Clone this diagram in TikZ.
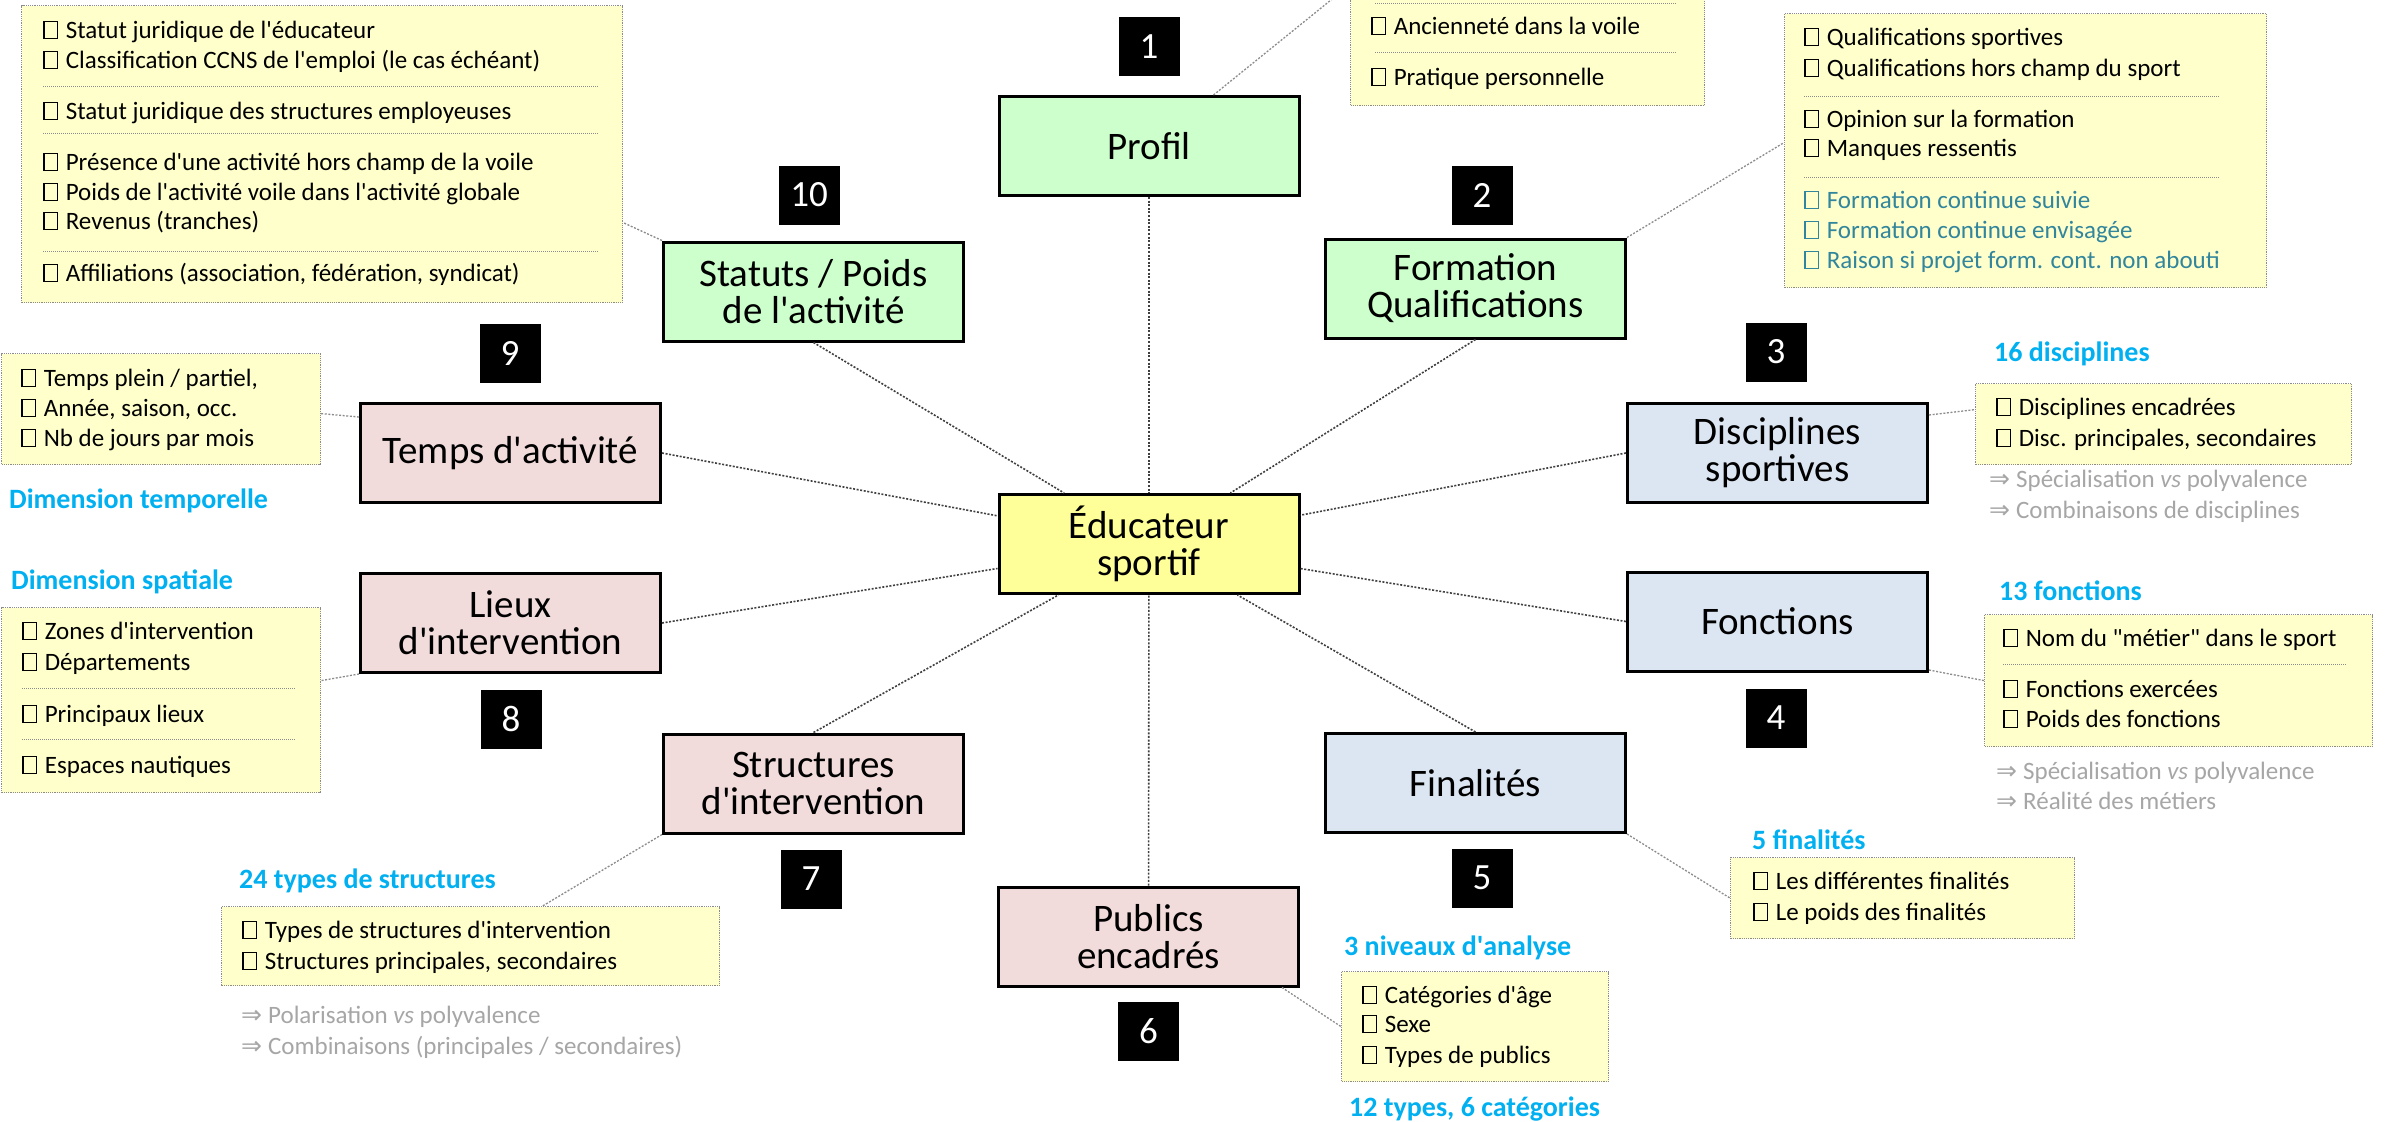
\documentclass[tikz,border=0pt]{standalone}
\usepackage{fontspec}
\setmainfont{Carlito}
\newfontfamily\djv{DejaVu Sans}
\usetikzlibrary{calc}
\definecolor{gbox}{HTML}{CCFFCC}
\definecolor{ybox}{HTML}{FFFF99}
\definecolor{pbox}{HTML}{F2DCDB}
\definecolor{bbox}{HTML}{DCE6F2}
\definecolor{infofill}{HTML}{FFFFCC}
\definecolor{hblue}{HTML}{00B0F0}
\definecolor{tealtx}{HTML}{31859C}
\definecolor{gtxt}{HTML}{A6A6A6}
\definecolor{bordg}{HTML}{8C8C8C}
\newcommand\q{\textquotesingle}
\newcommand\cbx{{\setlength\fboxsep{0pt}\setlength\fboxrule{1.3pt}\fbox{\rule{0pt}{16pt}\rule{12pt}{0pt}}}\hspace{8pt}}
\newcommand\impl{{\djv ⇒}\hspace{6pt}}
\newcommand\ibox[5]{\node[infobox, anchor=north west, minimum width=#4pt, minimum height=#5pt] (#1) at (#2,#3) {};}
\tikzset{
 mainbox/.style={draw=black, line width=3pt, minimum width=300pt, minimum height=99pt, align=center, font=\fontsize{39}{37}\selectfont, inner sep=2pt},
 numbox/.style={fill=black, text=white, minimum width=61pt, minimum height=59pt, inner sep=0pt, font=\fontsize{37}{37}\selectfont},
 infobox/.style={draw=bordg, fill=infofill, line width=1.2pt, densely dotted, inner sep=0pt},
 itxt/.style={anchor=base west, inner sep=0pt, font=\fontsize{25}{28}\selectfont},
 htxt/.style={anchor=base west, inner sep=0pt, font=\fontsize{28}{30}\selectfont\bfseries, text=hblue},
 gtx/.style={itxt, text=gtxt},
 ttx/.style={itxt, text=tealtx},
 sepline/.style={draw=bordg, line width=1pt, densely dotted},
 clink/.style={draw=black!75, line width=1.6pt, dash pattern=on 2pt off 1.6pt},
 ilink/.style={draw=black!45, line width=1.3pt, dash pattern=on 2pt off 1.6pt},
}
\begin{document}
\begin{tikzpicture}[x=1pt,y=-1pt]
\useasboundingbox (0,0) rectangle (2394,1122);
\clip (0,0) rectangle (2394,1122);
\fill[white] (0,0) rectangle (2394,1122);

% info boxes
\ibox{sinfo}{21}{5}{601}{297}
\ibox{pinfo}{1350}{-137}{354}{242}
\ibox{finfo}{1784}{13}{482}{274}
\ibox{dinfo}{1975}{383}{376}{81}
\ibox{foinfo}{1984}{614}{388}{132}
\ibox{fininfo}{1730}{857}{344}{81}
\ibox{puinfo}{1341}{971}{267}{110}
\ibox{stinfo}{221}{906}{498}{79}
\ibox{linfo}{1}{607}{319}{185}
\ibox{tinfo}{1}{353}{319}{111}

% Statuts info
\node[itxt] (a1) at (43,38) {\cbx Statut juridique de l\q éducateur};
\node[itxt] (a2) at (43,68) {\cbx Classification CCNS de l\q emploi (le cas échéant)};
\draw[sepline] (43,86) -- (598,86);
\node[itxt] (a3) at (43,119) {\cbx Statut juridique des structures employeuses};
\draw[sepline] (43,133) -- (598,133);
\node[itxt] (a4) at (43,170) {\cbx Présence d\q une activité hors champ de la voile};
\node[itxt] (a5) at (43,200) {\cbx Poids de l\q activité voile dans l\q activité globale};
\node[itxt] (a6) at (43,229) {\cbx Revenus (tranches)};
\draw[sepline] (43,251) -- (598,251);
\node[itxt] (a7) at (43,281) {\cbx Affiliations (association, fédération, syndicat)};

% Profil info
\draw[sepline] (1375,3) -- (1676,3);
\node[itxt] (b1) at (1371,34) {\cbx Ancienneté dans la voile};
\draw[sepline] (1375,52) -- (1676,52);
\node[itxt] (b2) at (1371,85) {\cbx Pratique personnelle};

% Formation info
\node[itxt] (c1) at (1804,45) {\cbx Qualifications sportives};
\node[itxt] (c2) at (1804,76) {\cbx Qualifications hors champ du sport};
\draw[sepline] (1804,96) -- (2220,96);
\node[itxt] (c3) at (1804,127) {\cbx Opinion sur la formation};
\node[itxt] (c4) at (1804,156) {\cbx Manques ressentis};
\draw[sepline] (1804,177) -- (2220,177);
\node[ttx] (c5) at (1804,208) {\cbx Formation continue suivie};
\node[ttx] (c6) at (1804,238) {\cbx Formation continue envisagée};
\node[ttx] (c7) at (1804,268) {\cbx Raison si projet form. cont. non abouti};

% Disciplines info
\node[htxt] (dh) at (1994,361) {16 disciplines};
\node[itxt] (d1) at (1996,415) {\cbx Disciplines encadrées};
\node[itxt] (d2) at (1996,446) {\cbx Disc. principales, secondaires};
\node[gtx] (d3) at (1989,487) {\impl Spécialisation \textit{vs} polyvalence};
\node[gtx] (d4) at (1989,518) {\impl Combinaisons de disciplines};

% Fonctions info
\node[htxt] (eh) at (1999,600) {13 fonctions};
\node[itxt] (e1) at (2003,646) {\cbx Nom du \textquotedbl métier\textquotedbl{} dans le sport};
\draw[sepline] (2003,664) -- (2347,664);
\node[itxt] (e2) at (2003,697) {\cbx Fonctions exercées};
\node[itxt] (e3) at (2003,727) {\cbx Poids des fonctions};
\node[gtx] (e4) at (1996,779) {\impl Spécialisation \textit{vs} polyvalence};
\node[gtx] (e5) at (1996,809) {\impl Réalité des métiers};

% Finalites info
\node[htxt] (fh) at (1752,849) {5 finalités};
\node[itxt] (f1) at (1753,889) {\cbx Les différentes finalités};
\node[itxt] (f2) at (1753,920) {\cbx Le poids des finalités};

% Publics info
\node[htxt] (gh) at (1344,955) {3 niveaux d\q analyse};
\node[itxt] (g1) at (1362,1003) {\cbx Catégories d\q âge};
\node[itxt] (g2) at (1362,1032) {\cbx Sexe};
\node[itxt] (g3) at (1362,1063) {\cbx Types de publics};
\node[htxt] (gf) at (1349,1116) {12 types, 6 catégories};

% Structures info
\node[htxt] (hh) at (239,888) {24 types de structures};
\node[itxt] (h1) at (242,938) {\cbx Types de structures d\q intervention};
\node[itxt] (h2) at (242,969) {\cbx Structures principales, secondaires};
\node[gtx] (h3) at (241,1023) {\impl Polarisation \textit{vs} polyvalence};
\node[gtx] (h4) at (241,1054) {\impl Combinaisons (principales / secondaires)};

% Lieux info
\node[htxt] (ih) at (11,589) {Dimension spatiale};
\node[itxt] (i1) at (22,639) {\cbx Zones d\q intervention};
\node[itxt] (i2) at (22,670) {\cbx Départements};
\draw[sepline] (22,688) -- (295,688);
\node[itxt] (i3) at (22,722) {\cbx Principaux lieux};
\draw[sepline] (22,739) -- (295,739);
\node[itxt] (i4) at (22,773) {\cbx Espaces nautiques};

% Temps info
\node[itxt] (j1) at (21,386) {\cbx Temps plein / partiel,};
\node[itxt] (j2) at (21,416) {\cbx Année, saison, occ.};
\node[itxt] (j3) at (21,446) {\cbx Nb de jours par mois};
\node[htxt] (jh) at (9,508) {Dimension temporelle};

% main boxes
\node[mainbox, fill=gbox] (prof) at (1149,146) {Profil};
\node[mainbox, fill=gbox] (form) at (1475.5,288.5) {Formation\\Qualifications};
\node[mainbox, fill=bbox] (disc) at (1777.5,453) {Disciplines\\sportives};
\node[mainbox, fill=bbox] (fonc) at (1777.5,621.5) {Fonctions};
\node[mainbox, fill=bbox] (fin) at (1475.5,783) {Finalités};
\node[mainbox, fill=pbox] (pub) at (1148.5,936.5) {Publics\\encadrés};
\node[mainbox, fill=pbox] (struc) at (813.5,783.5) {Structures\\d\q intervention};
\node[mainbox, fill=pbox] (lieux) at (510.5,623) {Lieux\\d\q intervention};
\node[mainbox, fill=pbox] (temps) at (510.5,453) {Temps d\q activité};
\node[mainbox, fill=gbox] (stat) at (813.5,291.5) {Statuts / Poids\\de l\q activité};
\node[mainbox, fill=ybox] (c) at (1149,544) {Éducateur\\sportif};

% number boxes
\node[numbox] (n1) at (1149,46.5) {1};
\node[numbox] (n2) at (1482,195) {2};
\node[numbox] (n3) at (1776,352) {3};
\node[numbox] (n4) at (1776,718) {4};
\node[numbox] (n5) at (1482,878) {5};
\node[numbox] (n6) at (1148.5,1031.5) {6};
\node[numbox] (n7) at (811,879) {7};
\node[numbox] (n8) at (511,719) {8};
\node[numbox] (n9) at (510,353) {9};
\node[numbox] (n10) at (809,195) {10};

% connectors to centre
\draw[clink] (prof) -- (c);
\draw[clink] (pub) -- (c);
\draw[clink] (stat.south) -- (c);
\draw[clink] (form.south) -- (c);
\draw[clink] (temps.east) -- (c);
\draw[clink] (disc.west) -- (c);
\draw[clink] (lieux.east) -- (c);
\draw[clink] (fonc.west) -- (c);
\draw[clink] (struc.north) -- (c);
\draw[clink] (fin.north) -- (c);

% connectors to info boxes
\draw[ilink] ([xshift=-87pt]prof.north east) -- (pinfo.west);
\draw[ilink] (form.north east) -- ([yshift=8pt]finfo.west);
\draw[ilink] (stat.north west) -- ([yshift=-68.5pt]sinfo.east);
\draw[ilink] ([yshift=36pt]temps.west) -- ([yshift=-4.5pt]tinfo.east);
\draw[ilink] (lieux.south west) -- ([yshift=19.5pt]linfo.east);
\draw[ilink] (struc.south west) -- ([xshift=72pt]stinfo.north);
\draw[ilink] ([xshift=-18pt]pub.south east) -- (puinfo.west);
\draw[ilink] (fin.south east) -- (fininfo.west);
\draw[ilink] ([yshift=38pt]disc.east) -- ([yshift=14.5pt]dinfo.west);
\draw[ilink] ([yshift=-48.5pt]fonc.east) -- (foinfo.west);
\end{tikzpicture}
\end{document}
